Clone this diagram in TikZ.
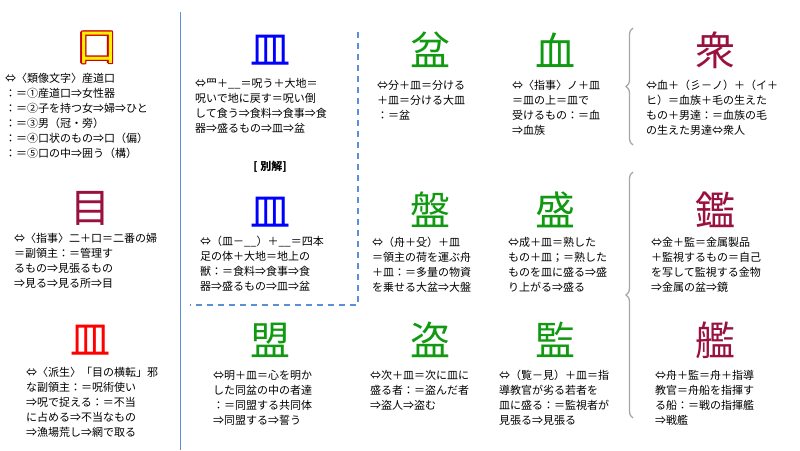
\documentclass[tikz,border=0pt]{standalone}
\usepackage{fontspec}
\setmainfont{Noto Sans CJK JP}
\usetikzlibrary{decorations.pathreplacing}
\definecolor{grn}{HTML}{119911}
\definecolor{drd}{HTML}{99113F}
\definecolor{lblue}{HTML}{5B8FD6}
\begin{document}
\begin{tikzpicture}[x=1pt,y=-1pt,
  big/.style={font=\fontsize{40}{40}\selectfont,inner sep=0pt},
  txt/.style={font=\fontsize{11}{15}\selectfont,align=left,anchor=north west,inner sep=0pt},
  br/.style={draw=gray!70,line width=1.3pt,decorate,decoration={brace,amplitude=7pt}}]
\useasboundingbox (0,0) rectangle (800,450);
% lines
\draw[lblue,line width=1pt] (180,12) -- (180,450);
\draw[lblue,line width=1.2pt,dashed,dash pattern=on 6pt off 5pt] (358,32) -- (358,305) -- (190,305);
\draw[br] (633,145) -- (633,28);
\draw[br] (633,418) -- (633,172);
% big characters
\foreach \dx/\dy in {-1.3/0,1.3/0,0/-1.3,0/1.3,-1/-1,1/1,-1/1,1/-1}
  \node[big,text=red!80!black] at (97+\dx,48+\dy) {口};
\node[big,text=yellow] (kou) at (97,48) {口};
\node[big,text=drd] (me) at (90,208) {目};
\node[big,text=red] (sara) at (90,340) {皿};
\node[big,text=blue] (sara1) at (270,50) {皿};
\node[font=\fontsize{11}{11}\selectfont\bfseries] (betsu) at (270,167) {[ 別解]};
\node[big,text=blue] (sara2) at (270,212) {皿};
\node[big,text=grn] (bon) at (430,50) {盆};
\node[big,text=grn] (chi) at (555,50) {血};
\node[big,text=grn] (ban) at (430,210) {盤};
\node[big,text=grn] (mori) at (555,210) {盛};
\node[big,text=grn] (mei) at (270,340) {盟};
\node[big,text=grn] (tou) at (430,340) {盗};
\node[big,text=grn] (kan) at (555,340) {監};
\node[big,text=drd] (shu) at (715,50) {衆};
\node[big,text=drd] (kagami) at (715,210) {鑑};
\node[big,text=drd] (ikusa) at (715,340) {艦};
% texts
\node[txt] (t1) at (5,73) {⇔〈類像文字〉産道口\\：＝①産道口⇒女性器\\：＝②子を持つ女⇒婦⇒ひと\\：＝③男（冠・旁）\\：＝④口状のもの⇒口（偏）\\：＝⑤口の中⇒囲う（構）};
\node[txt] (t2) at (14,233) {⇔〈指事〉二＋口＝二番の婦\\＝副領主：＝管理す\\るもの⇒見張るもの\\⇒見る⇒見る所⇒目};
\node[txt] (t3) at (26,367) {⇔〈派生〉「目の横転」邪\\な副領主：＝呪術使い\\⇒呪で捉える：＝不当\\に占める⇒不当なもの\\⇒漁場荒し⇒網で取る};
\node[txt] (t4) at (195,78) {⇔罒＋\_\_＝呪う＋大地＝\\呪いで地に戻す＝呪い倒\\して食う⇒食料⇒食事⇒食\\器⇒盛るもの⇒皿⇒盆};
\node[txt] (t5) at (200,236) {⇔（皿－\_\_）＋\_\_＝四本\\足の体＋大地＝地上の\\獣：＝食料⇒食事⇒食\\器⇒盛るもの⇒皿⇒盆};
\node[txt] (t6) at (213,370) {⇔明＋皿＝心を明か\\した同盆の中の者達\\：＝同盟する共同体\\⇒同盟する⇒誓う};
\node[txt] (t7) at (377,80) {⇔分＋皿＝分ける\\＋皿＝分ける大皿\\：＝盆};
\node[txt] (t8) at (512,80) {⇔〈指事〉ノ＋皿\\＝皿の上＝皿で\\受けるもの：＝血\\⇒血族};
\node[txt] (t9) at (372,237) {⇔（舟＋殳）＋皿\\＝領主の荷を運ぶ舟\\＋皿：＝多量の物資\\を乗せる大盆⇒大盤};
\node[txt] (t10) at (508,237) {⇔成＋皿＝熟した\\もの＋皿；＝熟した\\ものを皿に盛る⇒盛\\り上がる⇒盛る};
\node[txt] (t11) at (370,370) {⇔次＋皿＝次に皿に\\盛る者：＝盗んだ者\\⇒盗人⇒盗む};
\node[txt] (t12) at (499,370) {⇔（覧－見）＋皿＝指\\導教官が劣る若者を\\皿に盛る：＝監視者が\\見張る⇒見張る};
\node[txt] (t13) at (646,80) {⇔血＋（彡－ノ）＋（イ＋\\ヒ）＝血族＋毛の生えた\\もの＋男達：＝血族の毛\\の生えた男達⇔衆人};
\node[txt] (t14) at (651,237) {⇔金＋監＝金属製品\\＋監視するもの＝自己\\を写して監視する金物\\⇒金属の盆⇒鏡};
\node[txt] (t15) at (655,370) {⇔舟＋監＝舟＋指導\\教官＝舟船を指揮す\\る船：＝戦の指揮艦\\⇒戦艦};
\end{tikzpicture}
\end{document}
